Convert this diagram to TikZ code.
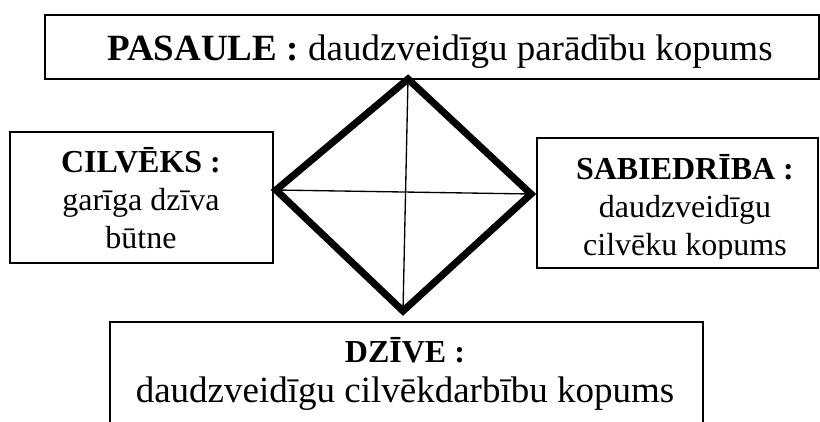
\documentclass[tikz,border=0pt]{standalone}
\usepackage{fontspec}
\setmainfont{Liberation Serif}
\newcommand{\bigtxt}{\fontsize{27.75}{33}\selectfont}
\newcommand{\sidetxt}{\fontsize{24}{28.5}\selectfont}

\begin{document}
\begin{tikzpicture}[x=0.75pt,y=-0.75pt,frame/.style={draw=black,line width=1.2pt,inner sep=0pt,outer sep=0pt},txt/.style={anchor=base,align=center,inner sep=0pt},edgeT/.style={line width=5.3pt},edgeF/.style={line width=1pt}]
\def\px{0.75pt};

\clip (0,0) rectangle (820,421);

% boxes
\node[frame,minimum width=774*\px,minimum height=64*\px] (pasB) at (432,47) {};
\node[frame,minimum width=263*\px,minimum height=131*\px] (cilB) at (141.5,197.5) {};
\node[frame,minimum width=281*\px,minimum height=130*\px] (sabB) at (677.5,203) {};
\node[frame,minimum width=593*\px,minimum height=118*\px] (dziB) at (406.5,381) {};

% texts (base = last line)
\node[txt,font=\bigtxt] (pasT) at (440,60) {\textbf{PASAULE :} daudzveidīgu parādību kopums};
\node[txt,font=\sidetxt] (cilT) at (141,248) {\textbf{CILVĒKS :}\\garīga dzīva\\būtne};
\begin{scope}
\clip (537,138) rectangle (818,258);
\node[txt,font=\sidetxt] (sabT) at (685,255) {\textbf{SABIEDRĪBA :}\\daudzveidīgu\\cilvēku kopums};
\end{scope}
\node[txt,font=\fontsize{24}{30}\selectfont] (dziT) at (405,402) {\textbf{DZĪVE :}\\{\bigtxt daudzveidīgu cilvēkdarbību kopums}};

% diamond
\coordinate (dT) at (408,79);
\coordinate (dL) at (276,190);
\coordinate (dR) at (531,194);
\coordinate (dB) at (403,311);
\draw[edgeF] (dT) -- (dB);
\draw[edgeF] (dL) -- (dR);
\draw[edgeT] (dT) -- (dR) -- (dB) -- (dL) -- cycle;
\end{tikzpicture}
\end{document}
